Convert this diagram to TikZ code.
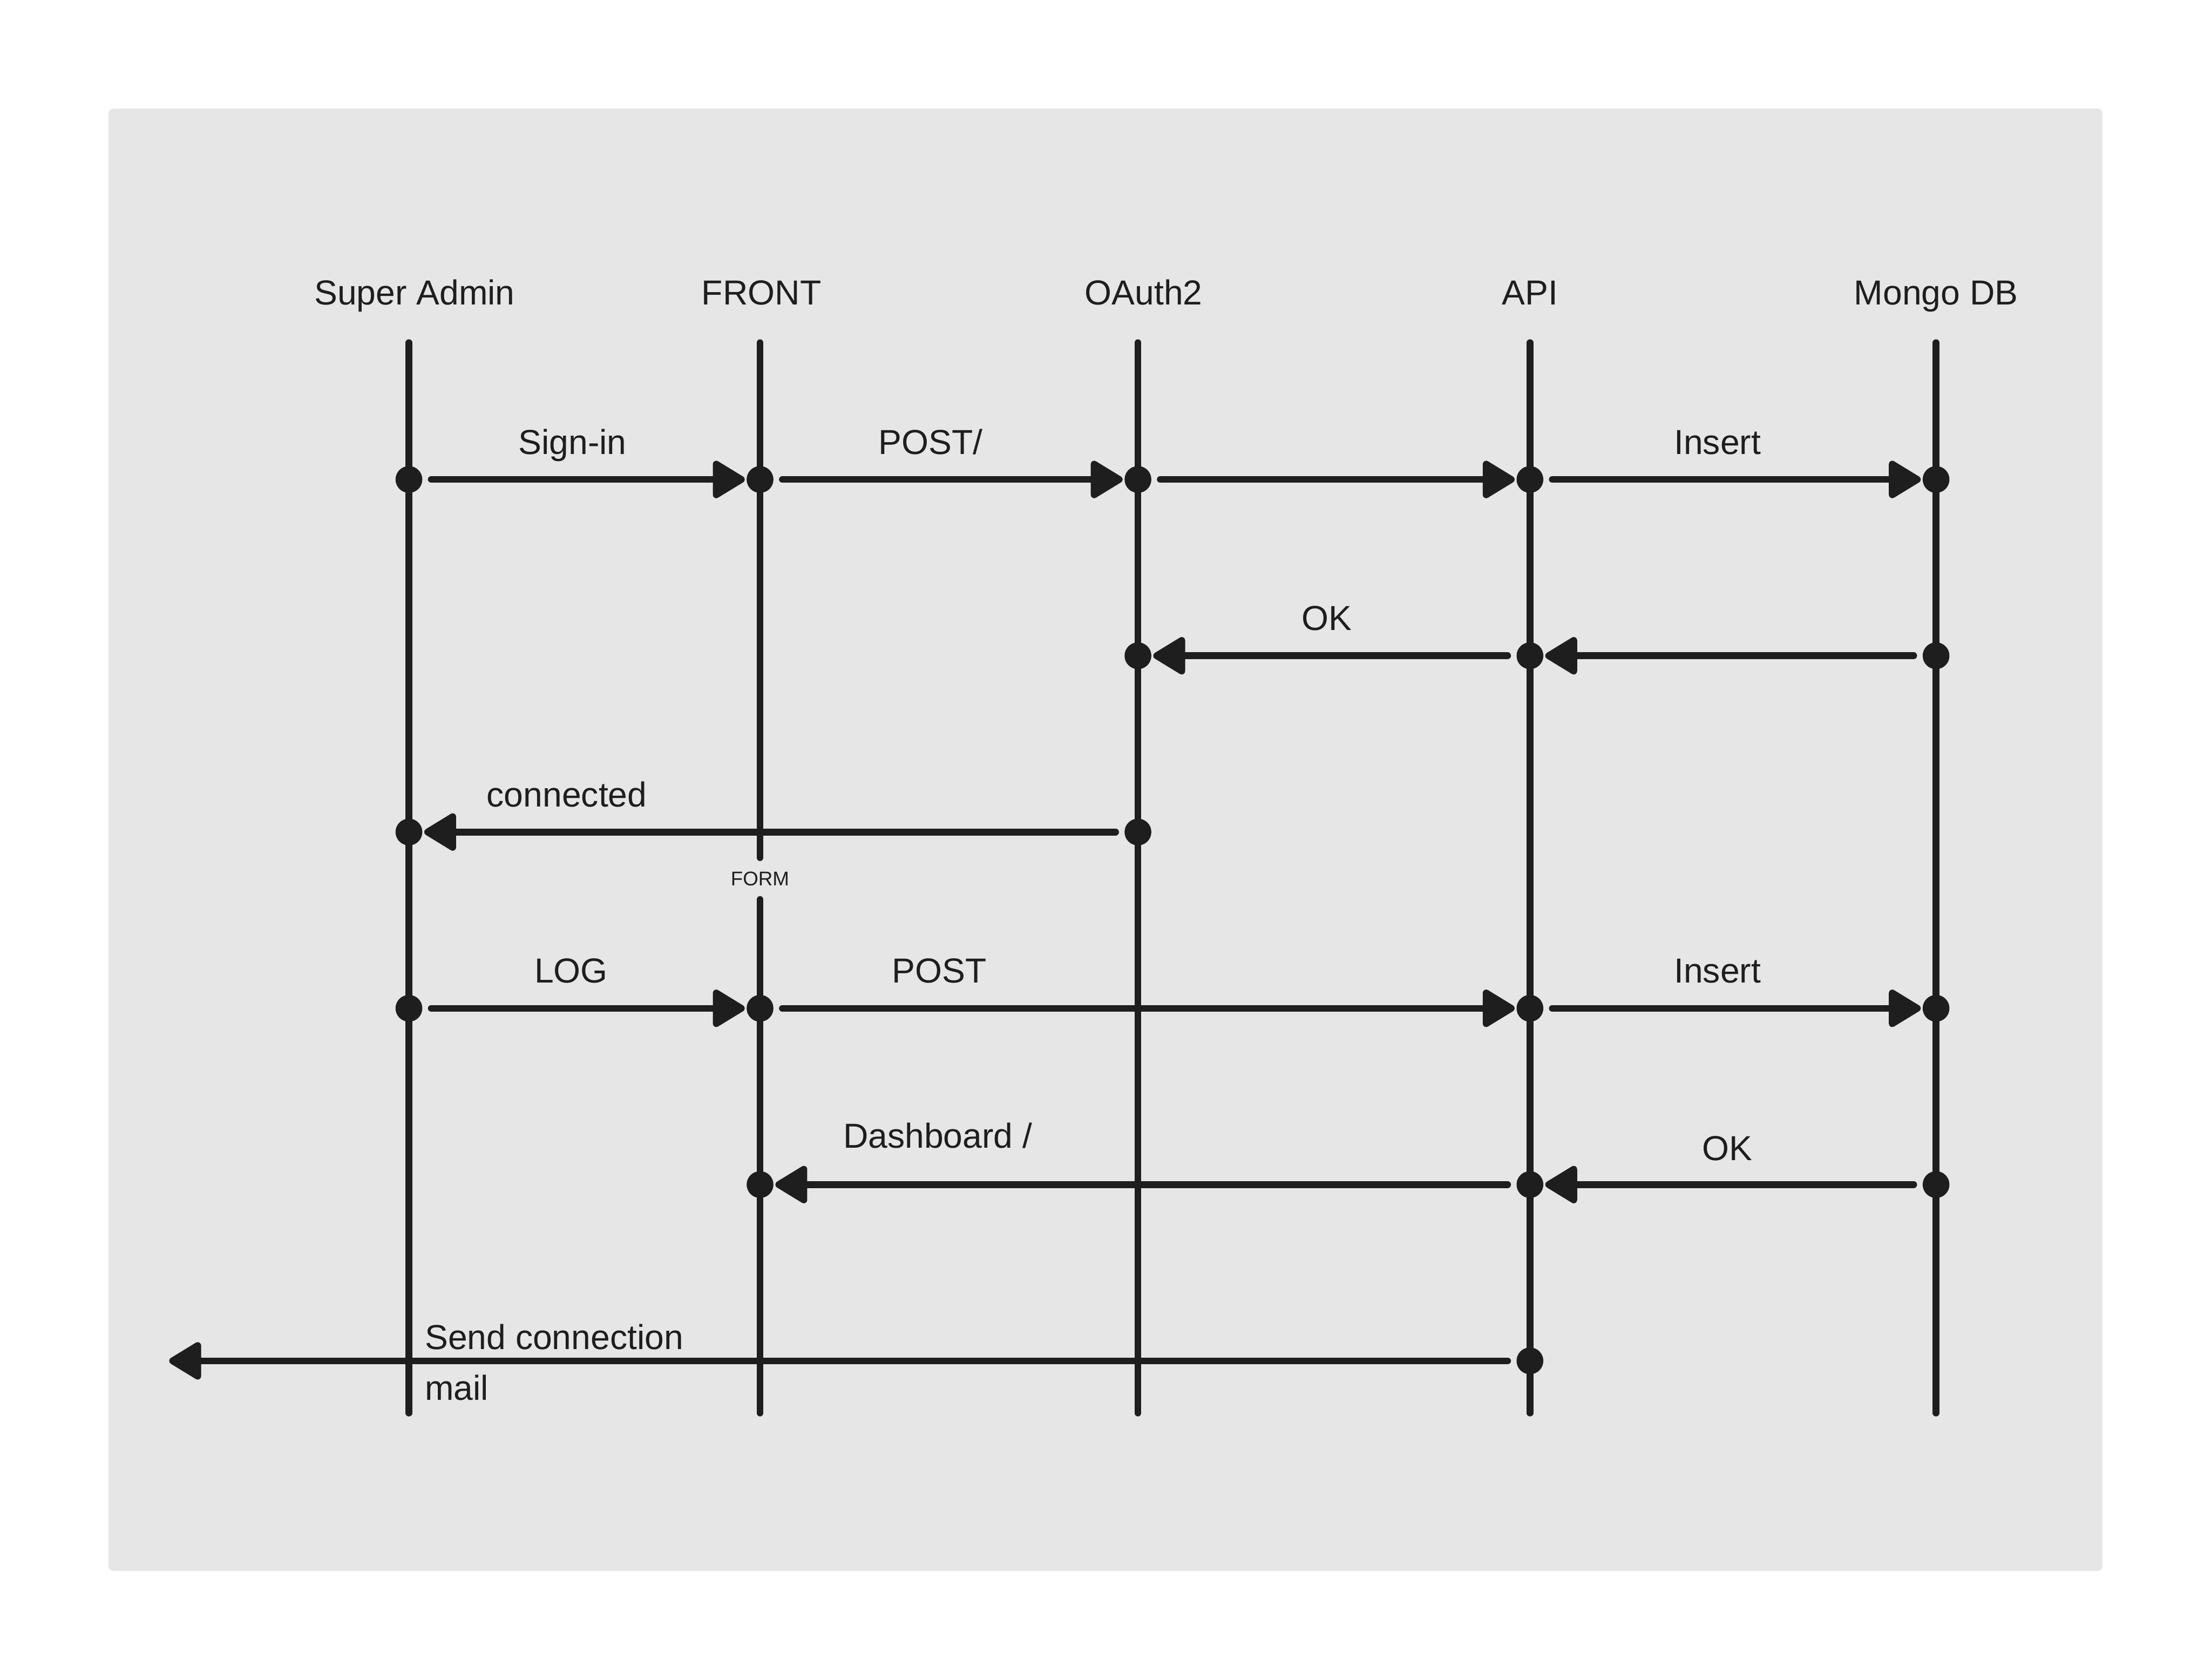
\documentclass[tikz,border=0pt]{standalone}
\usepackage{fontspec}
\setmainfont{Liberation Sans}
\usetikzlibrary{arrows.meta}
\definecolor{ink}{HTML}{1E1E1E}
\definecolor{panel}{HTML}{E6E6E6}

\begin{document}
\begin{tikzpicture}[x=0.2mm, y=-0.2mm,
  lifeline/.style={ink, line width=0.96mm, line cap=round},
  msg/.style={ink, line width=0.96mm, line cap=round, -{Triangle[length=5mm, width=5.8mm, round]}, shorten <=1.2mm, shorten >=0.2mm},
  dot/.style={circle, fill=ink, inner sep=0pt, minimum size=3.8mm},
  actor/.style={font=\fontsize{14}{17}\selectfont, text=ink, anchor=base},
  lbl/.style={font=\fontsize{14}{20.5}\selectfont, text=ink, anchor=base}]
\useasboundingbox (0,0) rectangle (1568,1191);
\fill[panel, rounded corners=0.7mm] (77,77) rectangle (1491,1114);

% actors
\node[actor] (admin) at (294,216) {Super Admin};
\node[actor] (front) at (540,216) {FRONT};
\node[actor] (oauth) at (811,216) {OAuth2};
\node[actor] (api) at (1085,216) {API};
\node[actor] (mongo) at (1373,216) {Mongo DB};

% lifelines
\foreach \n/\x in {sa/290, fr/539, oa/807, api/1085, db/1373} {
  \coordinate (\n top) at (\x,243);
  \coordinate (\n bot) at (\x,1002);
}
\node[font=\fontsize{8}{9}\selectfont, text=ink, inner xsep=0pt, inner ysep=1.9mm] (form) at (539,623) {FORM};
\draw[lifeline] (satop) -- (sabot);
\draw[lifeline] (frtop) -- (form);
\draw[lifeline] (form) -- (frbot);
\draw[lifeline] (oatop) -- (oabot);
\draw[lifeline] (apitop) -- (apibot);
\draw[lifeline] (dbtop) -- (dbbot);

% dots
\node[dot] (sa1) at (290,340) {};
\node[dot] (fr1) at (539,340) {};
\node[dot] (oa1) at (807,340) {};
\node[dot] (api1) at (1085,340) {};
\node[dot] (db1) at (1373,340) {};
\node[dot] (oa2) at (807,465) {};
\node[dot] (api2) at (1085,465) {};
\node[dot] (db2) at (1373,465) {};
\node[dot] (sa3) at (290,590) {};
\node[dot] (oa3) at (807,590) {};
\node[dot] (sa4) at (290,715) {};
\node[dot] (fr4) at (539,715) {};
\node[dot] (api4) at (1085,715) {};
\node[dot] (db4) at (1373,715) {};
\node[dot] (fr5) at (539,840) {};
\node[dot] (api5) at (1085,840) {};
\node[dot] (db5) at (1373,840) {};
\node[dot] (api6) at (1085,965) {};
\coordinate (mailout) at (120,965);

% messages
\draw[msg] (sa1) -- (fr1);
\draw[msg] (fr1) -- (oa1);
\draw[msg] (oa1) -- (api1);
\draw[msg] (api1) -- (db1);
\draw[msg] (api2) -- (oa2);
\draw[msg] (db2) -- (api2);
\draw[msg] (oa3) -- (sa3);
\draw[msg] (sa4) -- (fr4);
\draw[msg] (fr4) -- (api4);
\draw[msg] (api4) -- (db4);
\draw[msg] (api5) -- (fr5);
\draw[msg] (db5) -- (api5);
\draw[msg, shorten >=0pt] (api6) -- (mailout);

% labels
\node[lbl] (signin) at (406,322) {Sign-in};
\node[lbl] (post1) at (660,322) {POST/};
\node[lbl] (insert1) at (1218,322) {Insert};
\node[lbl] (ok1) at (941,447) {OK};
\node[lbl] (conn) at (402,572) {connected};
\node[lbl] (log) at (405,697) {LOG};
\node[lbl] (post2) at (666,697) {POST};
\node[lbl] (insert2) at (1218,697) {Insert};
\node[lbl] (dash) at (665,814) {Dashboard /};
\node[lbl] (ok2) at (1225,823) {OK};
\node[lbl, anchor=base west, align=left, inner xsep=0pt] (mail) at (301,993) {Send connection\\mail};
\end{tikzpicture}
\end{document}
